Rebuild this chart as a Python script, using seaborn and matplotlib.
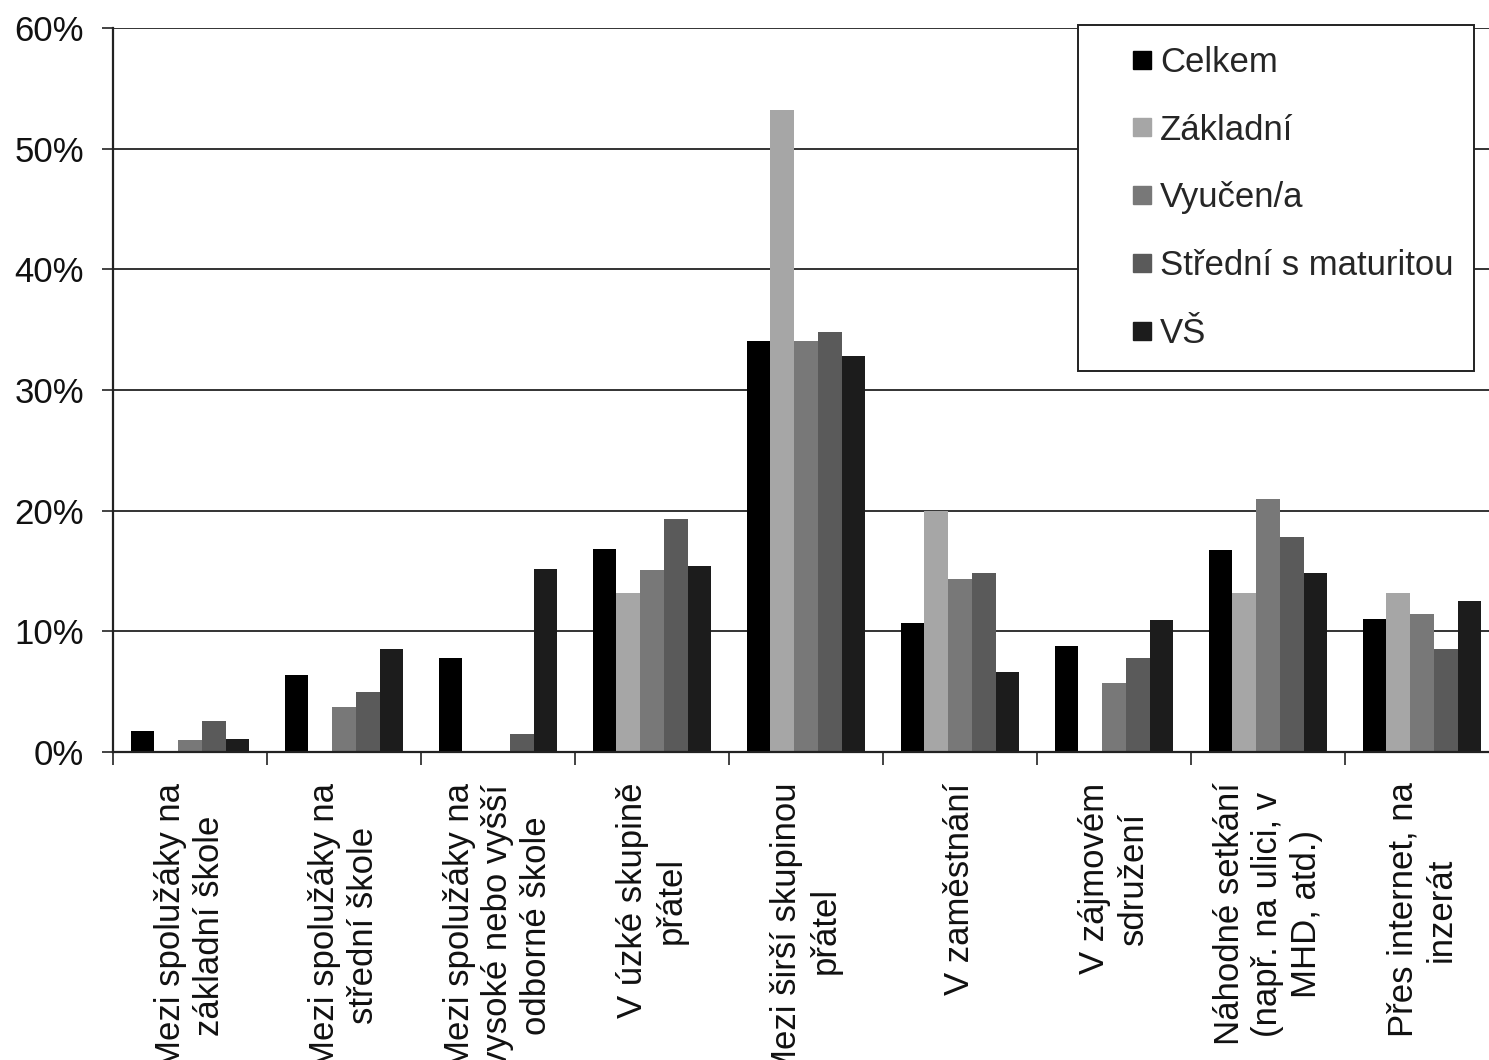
import numpy as np
import pandas as pd
import matplotlib
matplotlib.use("Agg")
import matplotlib.pyplot as plt
import seaborn as sns
from matplotlib.ticker import PercentFormatter
from matplotlib.lines import Line2D

categories = [
    "Mezi spolužáky na\nzákladní škole",
    "Mezi spolužáky na\nstřední škole",
    "Mezi spolužáky na\nvysoké nebo vyšší\nodborné škole",
    "V úzké skupině\npřátel",
    "Mezi širší skupinou\npřátel",
    "V zaměstnání",
    "V zájmovém\nsdružení",
    "Náhodné setkání\n(např. na ulici, v\nMHD, atd.)",
    "Přes internet, na\ninzerát",
]
series = ["Celkem", "Základní", "Vyučen/a", "Střední s maturitou", "VŠ"]

celkem = [1.7, 6.4, 7.8, 16.8, 34.1, 10.7, 8.8, 16.7, 11.0]
zakladni = [0.0, 0.0, 0.0, 13.2, 53.2, 20.0, 0.0, 13.2, 13.2]
vyucen = [1.0, 3.7, 0.0, 15.1, 34.1, 14.3, 5.7, 21.0, 11.4]
stredni = [2.6, 5.0, 1.5, 19.3, 34.8, 14.8, 7.8, 17.8, 8.5]
vs = [1.1, 8.5, 15.2, 15.4, 32.8, 6.6, 10.9, 14.8, 12.5]

colors = ["#000000", "#a6a6a6", "#787878", "#5a5a5a", "#1c1c1c"]

df = pd.DataFrame({
    "kategorie": categories,
    "Celkem": celkem,
    "Základní": zakladni,
    "Vyučen/a": vyucen,
    "Střední s maturitou": stredni,
    "VŠ": vs,
}).melt(id_vars="kategorie", var_name="skupina", value_name="podil")

sns.set_style("white")
plt.rcParams["font.family"] = ["Liberation Sans", "DejaVu Sans"]

fig = plt.figure(figsize=(14.89, 10.60), dpi=100)
ax = fig.add_axes([113 / 1489, 308 / 1060, 1386 / 1489, 724 / 1060])

sns.barplot(data=df, x="kategorie", y="podil", hue="skupina", hue_order=series,
            palette=colors, width=0.77, saturation=1, linewidth=0,
            legend=False, ax=ax)

ax.set_xlim(-0.5, 8.5)
ax.set_ylim(0, 60)
ax.set_yticks(np.arange(0, 61, 10))
ax.yaxis.set_major_formatter(PercentFormatter(100, decimals=0))
ax.yaxis.grid(True, color="#333333", lw=1.4)
ax.set_axisbelow(True)
ax.set_xlabel("")
ax.set_ylabel("")

for s in ["top", "right"]:
    ax.spines[s].set_visible(False)
for s in ["left", "bottom"]:
    ax.spines[s].set_color("#222222")
    ax.spines[s].set_linewidth(1.6)

ax.tick_params(axis="y", left=True, length=8, width=1.2, color="#222222",
               pad=13, labelsize=25, labelcolor="#111111")
ax.set_xticks(range(len(categories)))
ax.set_xticklabels(categories, rotation=90, ha="center", va="top",
                   multialignment="center", fontsize=25, color="#111111")
ax.set_xticks(np.arange(-0.5, len(categories), 1), minor=True)
ax.tick_params(axis="x", which="major", bottom=False, length=0, pad=22)
ax.tick_params(axis="x", which="minor", bottom=True, length=9, width=1.2,
               color="#222222")

handles = [Line2D([], [], ls="none", marker="s", markersize=13, mfc=c, mec=c)
           for c in colors]
leg = fig.legend(handles, series, loc="upper left",
                 bbox_to_anchor=(1078 / 1489, 1 - 25 / 1060),
                 frameon=True, fancybox=False, edgecolor="#222222",
                 fontsize=25, handlelength=2.49, handletextpad=-0.73,
                 labelspacing=1.0, borderpad=0.6, borderaxespad=0)
leg.get_frame().set_linewidth(1.4)
leg.get_frame().set_alpha(1)

fig.savefig("out.png", dpi=100)
